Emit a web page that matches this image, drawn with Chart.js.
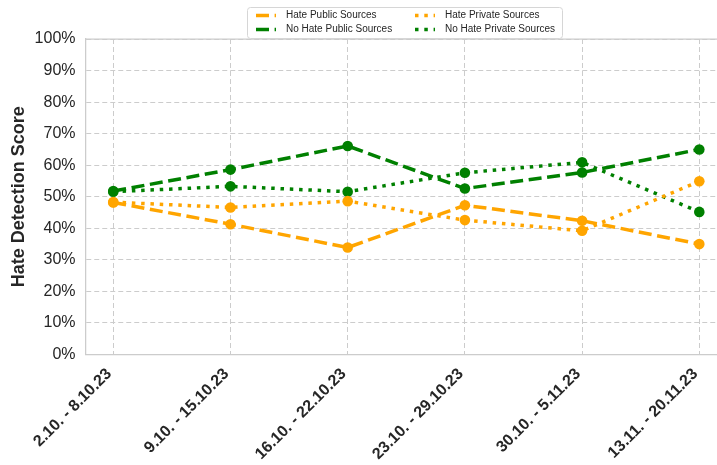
<!DOCTYPE html>
<html><head><meta charset="utf-8">
<script src="https://cdn.jsdelivr.net/npm/chart.js@4.4.1/dist/chart.umd.min.js"></script>
<style>html,body{margin:0;padding:0;background:#fff;overflow:hidden}#wrap{width:717px;height:465px}</style>
</head><body><div id="wrap"><canvas id="c" width="717" height="465"></canvas></div>
<script>
const categories = ["2.10. - 8.10.23", "9.10. - 15.10.23", "16.10. - 22.10.23", "23.10. - 29.10.23", "30.10. - 5.11.23", "13.11. - 20.11.23"];
const hatePublic = [48.2, 41.3, 33.9, 47.3, 42.4, 35.0];
const hatePrivate = [48.3, 46.6, 48.6, 42.6, 39.2, 54.9];
const noHatePublic = [51.8, 58.6, 66.1, 52.6, 57.7, 65.0];
const noHatePrivate = [51.6, 53.3, 51.6, 57.6, 60.9, 45.2];
const yTicks = [0, 10, 20, 30, 40, 50, 60, 70, 80, 90, 100];
const seriesNames = ["Hate Public Sources", "Hate Private Sources", "No Hate Public Sources", "No Hate Private Sources"];

const ORANGE = '#FFA500', GREEN = '#008000';
const DASHED = [13, 5.6], DOTTED = [3.5, 5.8];
const TXT = '#262626';
const FONT = '"Liberation Sans", Arial, sans-serif';

function mk(label, vals, color, dash) {
  return {
    label, data: vals.map((v, i) => ({x: i, y: v})),
    borderColor: color, backgroundColor: color, borderWidth: 3.5, borderDash: dash,
    borderCapStyle: 'butt', pointRadius: 5.3, pointHoverRadius: 5.3, pointBorderWidth: 0,
    pointBackgroundColor: color, tension: 0, fill: false
  };
}

const topSpine = {
  id: 'topSpine',
  beforeDatasetsDraw(chart) {
    const {ctx, chartArea: a} = chart;
    ctx.save();
    ctx.strokeStyle = '#cccccc'; ctx.lineWidth = 1.25;
    ctx.beginPath(); ctx.moveTo(a.left, a.top); ctx.lineTo(a.right, a.top); ctx.stroke();
    ctx.restore();
  }
};

const legendPlugin = {
  id: 'customLegend',
  afterDraw(chart) {
    const ctx = chart.ctx;
    const bx = 247, by = 7, bw = 315, bh = 31;
    ctx.save();
    ctx.fillStyle = 'rgba(255,255,255,0.85)';
    ctx.strokeStyle = '#d6d6d6'; ctx.lineWidth = 1;
    ctx.beginPath();
    ctx.roundRect(bx + 0.5, by + 0.5, bw, bh, 3);
    ctx.fill(); ctx.stroke();
    const items = chart.data.datasets;
    const pos = [[256, 15.5], [415, 15.5], [256, 29.5], [415, 29.5]];
    items.forEach((ds, i) => {
      const [x, y] = pos[i];
      ctx.strokeStyle = ds.borderColor; ctx.lineWidth = 3.5;
      ctx.setLineDash(ds.borderDash); ctx.lineCap = 'butt';
      ctx.beginPath(); ctx.moveTo(x, y); ctx.lineTo(x + 20, y); ctx.stroke();
      ctx.setLineDash([]);
      ctx.fillStyle = TXT; ctx.font = '10px ' + FONT;
      ctx.textBaseline = 'middle'; ctx.textAlign = 'left';
      ctx.fillText(ds.label, x + 30, y);
    });
    ctx.restore();
  }
};

new Chart(document.getElementById('c'), {
  type: 'line',
  data: {
    datasets: [
      mk(seriesNames[0], hatePublic, ORANGE, DASHED),
      mk(seriesNames[1], hatePrivate, ORANGE, DOTTED),
      mk(seriesNames[2], noHatePublic, GREEN, DASHED),
      mk(seriesNames[3], noHatePrivate, GREEN, DOTTED)
    ]
  },
  options: {
    responsive: false, animation: false, devicePixelRatio: 1,
    layout: {autoPadding: false, padding: {top: 39, right: 0, bottom: 0, left: 0}},
    plugins: {legend: {display: false}, tooltip: {enabled: false}},
    scales: {
      x: {
        type: 'linear', min: -0.237, max: 5.151,
        afterBuildTicks: s => { s.ticks = categories.map((_, i) => ({value: i})); },
        afterFit: s => { s.height = 110.5; s.paddingLeft = 0; s.paddingRight = 0; },
        ticks: {
          callback: v => categories[v], autoSkip: false, minRotation: 45, maxRotation: 45,
          font: {family: FONT, size: 16, weight: 'bold'}, color: TXT, padding: 10, labelOffset: -4
        },
        grid: {color: '#cccccc', lineWidth: 1, drawTicks: false},
        border: {display: true, color: '#cccccc', width: 1.25, dash: [5, 3]}
      },
      y: {
        min: 0, max: 100,
        afterBuildTicks: s => { s.ticks = yTicks.map(v => ({value: v})); },
        afterFit: s => { s.width = 85.5; },
        ticks: {
          callback: v => v + '%', font: {family: FONT, size: 16}, color: TXT, padding: 10
        },
        title: {
          display: true, text: 'Hate Detection Score', color: TXT,
          font: {family: FONT, size: 18, weight: 'bold'}, padding: {top: 8, bottom: 0}
        },
        grid: {color: '#cccccc', lineWidth: 1, drawTicks: false},
        border: {display: true, color: '#cccccc', width: 1.25, dash: [5, 3]}
      }
    }
  },
  plugins: [topSpine, legendPlugin]
});
</script>
</body></html>
